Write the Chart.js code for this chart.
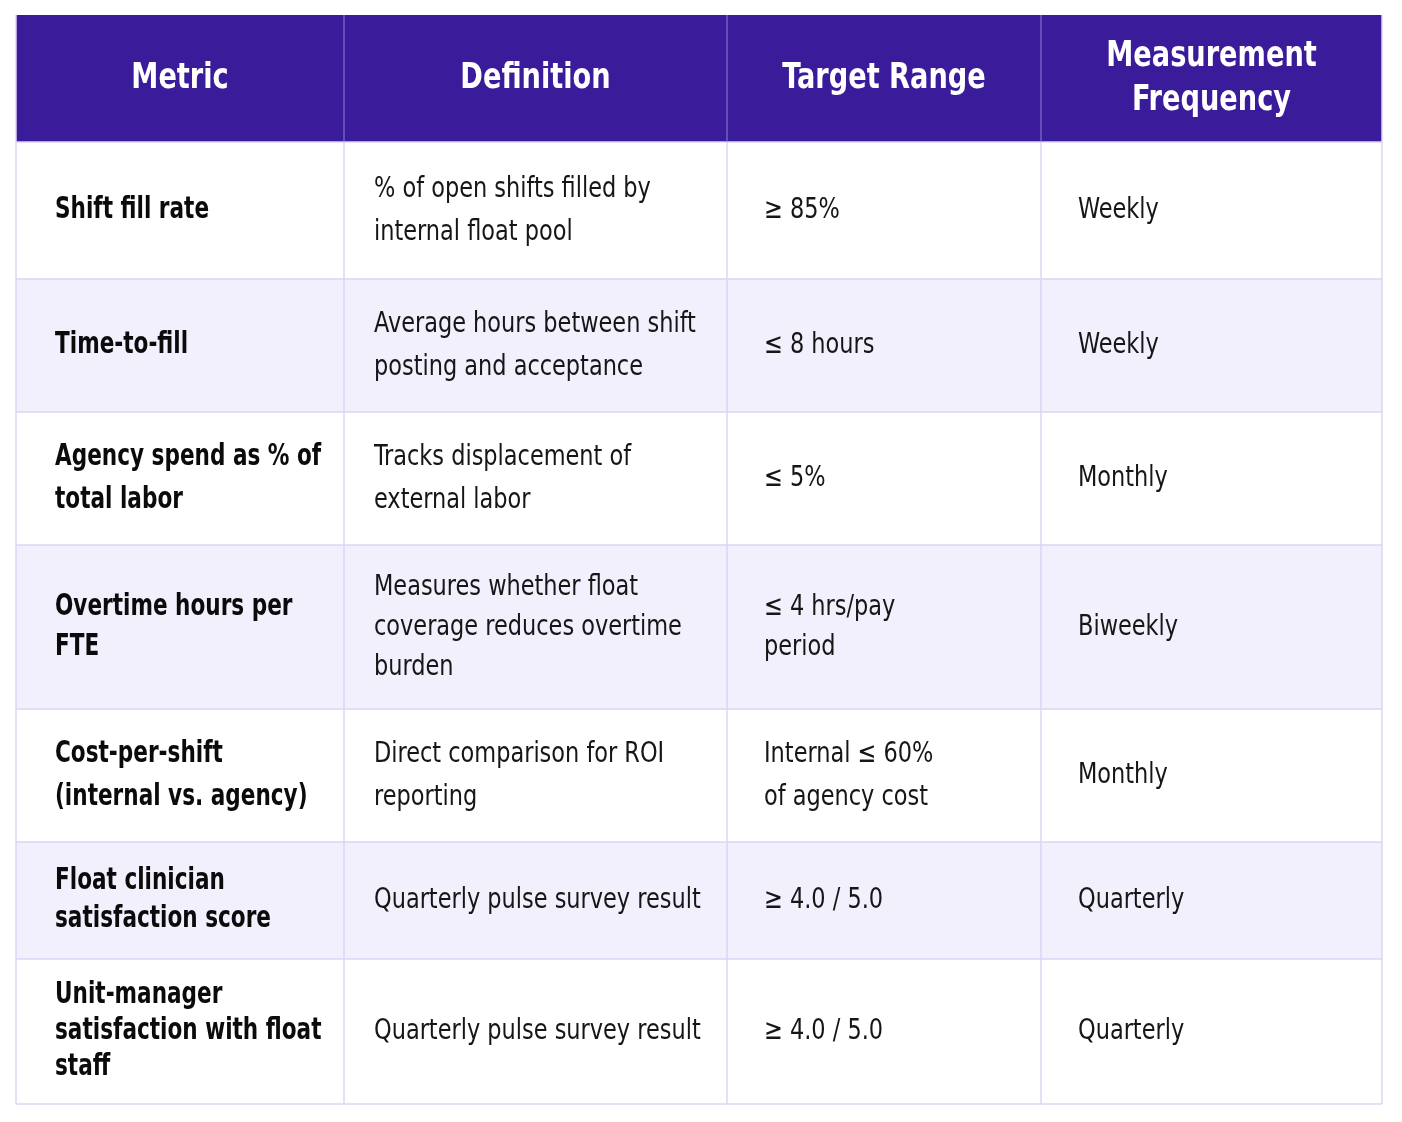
<!DOCTYPE html>
<html>
<head>
<meta charset="utf-8">
<script src="https://cdn.jsdelivr.net/npm/chart.js@4.4.1/dist/chart.umd.min.js"></script>
<style>
  html, body { margin: 0; padding: 0; background: #ffffff; }
  #wrap { width: 1402px; height: 1122px; position: relative; }
</style>
</head>
<body>
<div id="wrap"><canvas id="tbl"></canvas></div>
<script>
// table content
var headers = [["Metric"], ["Definition"], ["Target Range"], ["Measurement", "Frequency"]];
var metrics = [
  ["Shift fill rate"],
  ["Time-to-fill"],
  ["Agency spend as % of", "total labor"],
  ["Overtime hours per", "FTE"],
  ["Cost-per-shift", "(internal vs. agency)"],
  ["Float clinician", "satisfaction score"],
  ["Unit-manager", "satisfaction with float", "staff"]
];
var definitions = [
  ["% of open shifts filled by", "internal float pool"],
  ["Average hours between shift", "posting and acceptance"],
  ["Tracks displacement of", "external labor"],
  ["Measures whether float", "coverage reduces overtime", "burden"],
  ["Direct comparison for ROI", "reporting"],
  ["Quarterly pulse survey result"],
  ["Quarterly pulse survey result"]
];
var targets = [
  ["\u2265 85%"],
  ["\u2264 8 hours"],
  ["\u2264 5%"],
  ["\u2264 4 hrs/pay", "period"],
  ["Internal \u2264 60%", "of agency cost"],
  ["\u2265 4.0 / 5.0"],
  ["\u2265 4.0 / 5.0"]
];
var frequencies = [
  ["Weekly"],
  ["Weekly"],
  ["Monthly"],
  ["Biweekly"],
  ["Monthly"],
  ["Quarterly"],
  ["Quarterly"]
];

// layout (page units, mapped through the chart scales)
var colEdges = [16, 344, 727, 1041, 1382];
var rowEdges = [15, 142, 279, 412, 545, 709, 842, 959, 1104];
var textInset = [39, 30, 37, 37];
var lineGaps = [43, 43, 43, 40, 43, 38, 36];

var FONT = '"Liberation Sans Narrow", "DejaVu Sans Condensed", "Roboto", sans-serif';

// narrow the installed condensed face a little more, like the original
function squeezeText(ctx, txt, x, y, k) {
  var w = ctx.measureText(txt).width;
  ctx.fillText(txt, x, y, w * k);
}

var tablePlugin = {
  id: 'tablePlugin',
  afterDraw: function(chart) {
    var ctx = chart.ctx;
    var xs = chart.scales.x, ys = chart.scales.y;
    function px(v) { return xs.getPixelForValue(v); }
    function py(v) { return ys.getPixelForValue(v); }

    ctx.save();
    // header band
    ctx.fillStyle = '#3a1c9b';
    ctx.fillRect(px(colEdges[0]), py(rowEdges[0]), px(colEdges[4]) - px(colEdges[0]), py(rowEdges[1]) - py(rowEdges[0]));

    // body rows
    var columns = [metrics, definitions, targets, frequencies];
    for (var r = 0; r < metrics.length; r++) {
      var top = py(rowEdges[r + 1]), bot = py(rowEdges[r + 2]);
      ctx.fillStyle = (r % 2 === 1) ? '#f3f0fd' : '#ffffff';
      ctx.fillRect(px(colEdges[0]), top, px(colEdges[4]) - px(colEdges[0]), bot - top);
    }

    // grid lines
    ctx.strokeStyle = '#dcd5f5';
    ctx.lineWidth = 1.5;
    for (var i = 1; i < rowEdges.length; i++) {
      ctx.beginPath();
      ctx.moveTo(px(colEdges[0]), py(rowEdges[i]));
      ctx.lineTo(px(colEdges[4]), py(rowEdges[i]));
      ctx.stroke();
    }
    for (var c = 0; c < colEdges.length; c++) {
      ctx.beginPath();
      ctx.moveTo(px(colEdges[c]), py(rowEdges[c === 0 || c === 4 ? 0 : 1]));
      ctx.lineTo(px(colEdges[c]), py(rowEdges[rowEdges.length - 1]));
      ctx.stroke();
    }
    // header separators
    ctx.strokeStyle = '#8f7fd6';
    ctx.lineWidth = 1;
    for (c = 1; c < 4; c++) {
      ctx.beginPath();
      ctx.moveTo(px(colEdges[c]), py(rowEdges[0]));
      ctx.lineTo(px(colEdges[c]), py(rowEdges[1]));
      ctx.stroke();
    }

    // header text
    ctx.fillStyle = '#ffffff';
    ctx.textAlign = 'center';
    ctx.textBaseline = 'middle';
    ctx.font = 'bold 36px ' + FONT;
    for (c = 0; c < headers.length; c++) {
      var cx = (px(colEdges[c]) + px(colEdges[c + 1])) / 2;
      var cy = (py(rowEdges[0]) + py(rowEdges[1])) / 2;
      var lines = headers[c];
      for (var l = 0; l < lines.length; l++) {
        squeezeText(ctx, lines[l], cx, cy + (l - (lines.length - 1) / 2) * 44, 0.84);
      }
    }

    // body text
    ctx.textAlign = 'left';
    for (r = 0; r < metrics.length; r++) {
      var midY = (py(rowEdges[r + 1]) + py(rowEdges[r + 2])) / 2;
      for (c = 0; c < columns.length; c++) {
        var cell = columns[c][r];
        var k;
        if (c === 0) {
          ctx.font = 'bold 30px ' + FONT;
          ctx.fillStyle = '#0b0b0b';
          k = 0.80;
        } else {
          ctx.font = '29px ' + FONT;
          ctx.fillStyle = '#161616';
          k = 0.86;
        }
        var x0 = px(colEdges[c] + textInset[c]);
        for (l = 0; l < cell.length; l++) {
          squeezeText(ctx, cell[l], x0, midY + (l - (cell.length - 1) / 2) * lineGaps[r], k);
        }
      }
    }
    ctx.restore();
  }
};

new Chart(document.getElementById('tbl'), {
  type: 'scatter',
  data: { datasets: [{ data: [], pointRadius: 0 }] },
  options: {
    responsive: true,
    maintainAspectRatio: false,
    animation: false,
    layout: { padding: 0 },
    plugins: { legend: { display: false }, tooltip: { enabled: false } },
    scales: {
      x: { type: 'linear', min: 0, max: 1402, display: false },
      y: { type: 'linear', min: 0, max: 1122, reverse: true, display: false }
    }
  },
  plugins: [tablePlugin]
});
</script>
</body>
</html>
